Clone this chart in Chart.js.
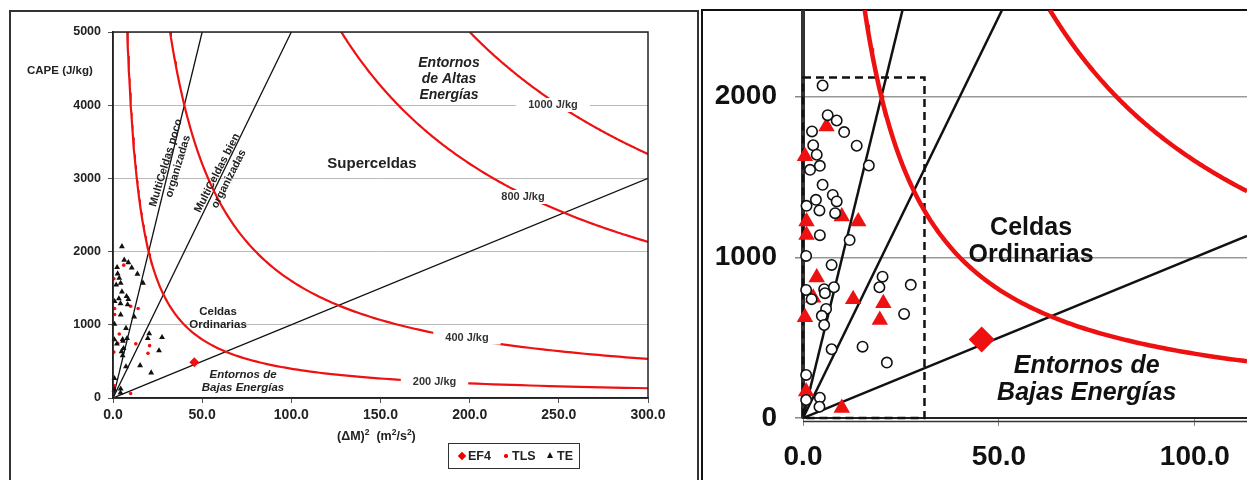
<!DOCTYPE html>
<html>
<head>
<meta charset="utf-8">
<title>CAPE vs (ΔM)²</title>
<script src="https://cdn.jsdelivr.net/npm/chart.js@4.4.1/dist/chart.umd.min.js"></script>
<style>
  html, body { margin: 0; padding: 0; background: #fff; }
  body { width: 1247px; height: 480px; overflow: hidden; position: relative; font-family: "Liberation Sans", Arial, sans-serif; color: #222; }
  .frame { position: absolute; box-sizing: border-box; border: 2px solid #333; border-bottom: none; }
  #frameL { left: 9px; top: 10px; width: 690px; height: 480px; }
  #frameR { left: 701px; top: 9px; width: 600px; height: 480px; border-color: #111; }
  .wrap { position: absolute; }
  #wrapL { left: 12px; top: 13px; width: 683px; height: 467px; }
  #wrapR { left: 702px; top: 10px; width: 545px; height: 470px; }
  #capeTitle { position: absolute; left: 27px; top: 64px; font-weight: bold; font-size: 11.5px; white-space: nowrap; }
  #xTitle { position: absolute; left: 337px; top: 429px; font-weight: bold; font-size: 12.5px; white-space: nowrap; }
  #xTitle sup { font-size: 8.5px; vertical-align: 5px; line-height: 0; }
  #legend { position: absolute; left: 448px; top: 443px; width: 132px; height: 26px; box-sizing: border-box;
            border: 1px solid #333; font-weight: bold; font-size: 12.5px; background: #fff; }
  #legend span { position: absolute; }
  #legend .txt { top: 5px; }
  .dia { left: 10px; top: 9px; width: 6px; height: 6px; background: #e00; transform: rotate(45deg); }
  .dot { left: 55px; top: 10px; width: 3.5px; height: 3.5px; border-radius: 50%; background: #e00; }
  .tri { left: 98px; top: 8px; width: 0; height: 0; border-left: 3.5px solid transparent;
         border-right: 3.5px solid transparent; border-bottom: 6px solid #111; }
</style>
</head>
<body>
<div class="frame" id="frameL"></div>
<div class="frame" id="frameR"></div>
<div class="wrap" id="wrapL"><canvas id="chartL"></canvas></div>
<div class="wrap" id="wrapR"><canvas id="chartR"></canvas></div>
<div id="capeTitle">CAPE (J/kg)</div>
<div id="xTitle">(ΔM)<sup>2</sup>&nbsp;&nbsp;(m<sup>2</sup>/s<sup>2</sup>)</div>
<div id="legend">
  <span class="dia"></span><span class="txt" style="left:19px">EF4</span>
  <span class="dot"></span><span class="txt" style="left:63px">TLS</span>
  <span class="tri"></span><span class="txt" style="left:108px">TE</span>
</div>
<script>
// axis ticks
const leftXTicks = [0, 50, 100, 150, 200, 250, 300];
const leftYTicks = [0, 1000, 2000, 3000, 4000, 5000];
const rightXTicks = [0, 50, 100];
const rightYTicks = [0, 1000, 2000];

// iso-energy lines sqrt(CAPE*(ΔM)²) = E, and CAPE/(ΔM)² dividing lines
const energyLevels = [200, 400, 800, 1000];
const ratioLines = [100, 50, 10];

// EF4 case
const ef4Shear = [45.6];
const ef4Cape = [488];

// TLS cases
const tlsShear = [6.0, 0.5, 0.9, 9.9, 14.1, 0.9, 3.5, 2.6, 12.8, 20.5, 19.6, 0.5, 0.8, 9.9];
const tlsCape = [1815, 1630, 1223, 1254, 1223, 1140, 875, 748, 740, 715, 610, 627, 165, 62];

// TE cases
const teShear = [5.0, 6.3, 8.6, 10.5, 2.3, 13.7, 2.6, 3.5, 4.3, 16.8, 1.8, 5.0, 7.6, 8.6, 3.3, 4.2, 0.9, 8.2, 4.3, 11.9,
                 0.8, 7.3, 20.3, 19.5, 27.5, 0.8, 5.4, 7.9, 5.6, 2.2, 5.9, 4.8, 5.4, 25.8, 7.3, 15.2, 21.4, 0.8, 0.8, 4.3, 4.2];
const teCape = [2070, 1885, 1852, 1780, 1784, 1695, 1698, 1639, 1570, 1572, 1545, 1452, 1389, 1348, 1358, 1292, 1321, 1275, 1138, 1108,
                1009, 953, 880, 814, 829, 797, 802, 814, 777, 740, 679, 636, 579, 648, 428, 444, 345, 268, 112, 126, 70];

// dashed box on the zoomed panel
const detailShear = 31;
const detailCape = 2120;

const RED = '#ee1111';
const FONT = '"Liberation Sans", Arial, sans-serif';

const toPts = (xs, ys) => xs.map((x, i) => ({ x: x, y: ys[i] }));

function isoCurve(e, xMax, yMax) {
  const pts = [];
  const x0 = e * e / yMax;
  if (x0 >= xMax) return pts;
  for (let i = 0; i <= 160; i++) {
    const x = x0 * Math.pow(xMax / x0, i / 160);
    pts.push({ x: x, y: e * e / x });
  }
  return pts;
}

function ray(k, xMax, yMax) {
  const xEnd = Math.min(xMax, yMax / k);
  return [{ x: 0, y: 0 }, { x: xEnd, y: k * xEnd }];
}

function buildDatasets(xMax, yMax, st) {
  const sets = [
    { label: 'EF4', data: toPts(ef4Shear, ef4Cape), pointStyle: 'rectRot', pointRadius: st.ef4R,
      backgroundColor: RED, borderColor: RED, borderWidth: 0, order: 0, clip: false },
    { label: 'TE', data: toPts(teShear, teCape), pointStyle: st.teStyle, pointRadius: st.teR,
      backgroundColor: st.teFill, borderColor: '#111', borderWidth: st.teBorder, order: 1, clip: false },
    { label: 'TLS', data: toPts(tlsShear, tlsCape), pointStyle: st.tlsStyle, pointRadius: st.tlsR,
      backgroundColor: RED, borderColor: RED, borderWidth: 0, order: 2, clip: false }
  ];
  energyLevels.forEach(e => sets.push({
    label: e + ' J/kg', data: isoCurve(e, xMax, yMax), showLine: true, borderColor: RED,
    borderWidth: st.curveW, pointRadius: 0, order: 3
  }));
  ratioLines.forEach(k => sets.push({
    label: 'CAPE = ' + k + '·ΔM²', data: ray(k, xMax, yMax), showLine: true, borderColor: '#111',
    borderWidth: st.rayW, pointRadius: 0, order: 4
  }));
  return sets;
}

function fixTicks(list) {
  return s => { s.ticks = list.map(v => ({ value: v })); };
}

function drawLines(ctx, item, x, y) {
  const px = x.getPixelForValue(item.x);
  const py = y.getPixelForValue(item.y);
  ctx.font = item.font + ' ' + FONT;
  item.lines.forEach((t, i) => ctx.fillText(t, px, py + i * item.lh));
}

// ---------- left panel ----------
const leftIsoLabels = [
  { e: 1000, x: 246.7, y: 4003 },
  { e: 800, x: 229.9, y: 2746 },
  { e: 400, x: 198.5, y: 826 },
  { e: 200, x: 180.3, y: 219 }
];
const leftTexts = [
  { lines: ['Superceldas'], x: 145.2, y: 3142, font: 'bold 15px', lh: 0 },
  { lines: ['Entornos', 'de Altas', 'Energías'], x: 188.4, y: 4522, font: 'italic bold 14px', lh: 16 },
  { lines: ['Celdas', 'Ordinarias'], x: 58.9, y: 1134, font: 'bold 11.5px', lh: 13 },
  { lines: ['Entornos de', 'Bajas Energías'], x: 72.9, y: 273, font: 'italic bold 11.5px', lh: 13 }
];
const leftRotated = [
  { lines: ['MultiCeldas poco', 'organizadas'], x: 33.1, y: 3190, deg: -73.3, lh: 12.5 },
  { lines: ['MultiCeldas bien', 'organizadas'], x: 61.7, y: 3033, deg: -62.9, lh: 13 }
];

const leftNotes = {
  id: 'leftNotes',
  afterDatasetsDraw(chart) {
    const { ctx, chartArea: a, scales: { x, y } } = chart;
    ctx.save();
    ctx.strokeStyle = '#222';
    ctx.lineWidth = 1.5;
    ctx.strokeRect(a.left, a.top, a.right - a.left, a.bottom - a.top);

    ctx.font = 'bold 11px ' + FONT;
    ctx.textAlign = 'center';
    ctx.textBaseline = 'middle';
    leftIsoLabels.forEach(l => {
      const txt = l.e + ' J/kg';
      const px = x.getPixelForValue(l.x), py = y.getPixelForValue(l.y);
      const w = ctx.measureText(txt).width + 24;
      ctx.fillStyle = '#fff';
      ctx.fillRect(px - w / 2, py - 7, w, 14);
      ctx.fillStyle = '#333';
      ctx.fillText(txt, px, py);
    });

    ctx.fillStyle = '#222';
    ctx.textBaseline = 'alphabetic';
    leftTexts.forEach(t => drawLines(ctx, t, x, y));

    ctx.font = 'bold 11px ' + FONT;
    ctx.textBaseline = 'middle';
    leftRotated.forEach(r => {
      ctx.save();
      ctx.translate(x.getPixelForValue(r.x), y.getPixelForValue(r.y));
      ctx.rotate(r.deg * Math.PI / 180);
      const n = r.lines.length;
      r.lines.forEach((t, i) => ctx.fillText(t, 0, (i - (n - 1) / 2) * r.lh));
      ctx.restore();
    });
    ctx.restore();
  }
};

new Chart(document.getElementById('chartL'), {
  type: 'scatter',
  data: { datasets: buildDatasets(300, 5000, {
    ef4R: 5, teStyle: 'triangle', teR: 3.4, teFill: '#111', teBorder: 0,
    tlsStyle: 'circle', tlsR: 1.8, curveW: 2.2, rayW: 1.3
  }) },
  options: {
    responsive: true,
    maintainAspectRatio: false,
    animation: false,
    layout: { autoPadding: false, padding: { top: 19, right: 47, left: 0, bottom: 0 } },
    plugins: { legend: { display: false }, tooltip: { enabled: false } },
    scales: {
      x: {
        type: 'linear', min: 0, max: 300,
        afterBuildTicks: fixTicks(leftXTicks),
        afterFit: s => { s.height = 82; s.paddingLeft = 0; s.paddingRight = 0; },
        grid: { drawOnChartArea: false, tickLength: 5, tickColor: '#555' },
        border: { color: '#222', width: 1.5 },
        ticks: { autoSkip: false, maxRotation: 0, padding: 4, color: '#222',
                 font: { family: FONT, size: 14, weight: 'bold' }, callback: v => Number(v).toFixed(1) }
      },
      y: {
        type: 'linear', min: 0, max: 5000,
        afterBuildTicks: fixTicks(leftYTicks),
        afterFit: s => { s.width = 101; s.paddingTop = 0; s.paddingBottom = 0; },
        grid: { color: '#bbb', lineWidth: 1, tickLength: 5, tickColor: '#555' },
        border: { color: '#222', width: 1.5 },
        ticks: { padding: 7, color: '#222', font: { family: FONT, size: 12.5, weight: 'bold' },
                 callback: v => String(v) }
      }
    }
  },
  plugins: [leftNotes]
});

// ---------- right (zoomed) panel ----------
const rightTexts = [
  { lines: ['Celdas', 'Ordinarias'], x: 58.2, y: 1140, font: 'bold 25px', lh: 27 },
  { lines: ['Entornos de', 'Bajas Energías'], x: 72.4, y: 280, font: 'italic bold 25px', lh: 27 }
];

const rightNotes = {
  id: 'rightNotes',
  beforeDatasetsDraw(chart) {
    const { ctx, scales: { x, y } } = chart;
    const x0 = x.getPixelForValue(0), x1 = x.getPixelForValue(detailShear);
    const y0 = y.getPixelForValue(0), y1 = y.getPixelForValue(detailCape);
    ctx.save();
    ctx.strokeStyle = '#111';
    ctx.lineWidth = 2.5;
    ctx.setLineDash([8, 5]);
    ctx.strokeRect(x0, y1, x1 - x0, y0 - y1);
    ctx.restore();
  },
  afterDatasetsDraw(chart) {
    const { ctx, chartArea: a, scales: { x, y } } = chart;
    ctx.save();
    ctx.strokeStyle = '#333';
    ctx.lineWidth = 1.5;
    ctx.beginPath();
    ctx.moveTo(a.left, a.bottom + 3.5);
    ctx.lineTo(a.right, a.bottom + 3.5);
    ctx.stroke();
    ctx.fillStyle = '#111';
    ctx.textAlign = 'center';
    ctx.textBaseline = 'alphabetic';
    rightTexts.forEach(t => drawLines(ctx, t, x, y));
    ctx.restore();
  }
};

new Chart(document.getElementById('chartR'), {
  type: 'scatter',
  data: { datasets: buildDatasets(113.3, 2540, {
    ef4R: 13, teStyle: 'circle', teR: 5.2, teFill: '#fff', teBorder: 1.6,
    tlsStyle: 'triangle', tlsR: 9.5, curveW: 4.5, rayW: 2.5
  }) },
  options: {
    responsive: true,
    maintainAspectRatio: false,
    animation: false,
    layout: { autoPadding: false, padding: 0 },
    plugins: { legend: { display: false }, tooltip: { enabled: false } },
    scales: {
      x: {
        type: 'linear', min: 0, max: 113.3,
        afterBuildTicks: fixTicks(rightXTicks),
        afterFit: s => { s.height = 62; s.paddingLeft = 0; s.paddingRight = 0; },
        grid: { drawOnChartArea: false, tickLength: 8, tickColor: '#888' },
        border: { color: '#222', width: 2 },
        ticks: { autoSkip: false, maxRotation: 0, padding: 14, color: '#111',
                 font: { family: FONT, size: 28, weight: 'bold' }, callback: v => Number(v).toFixed(1) }
      },
      y: {
        type: 'linear', min: 0, max: 2540,
        afterBuildTicks: fixTicks(rightYTicks),
        afterFit: s => { s.width = 101; s.paddingTop = 0; s.paddingBottom = 0; },
        grid: { color: c => (c.tick && c.tick.value === 0 ? 'rgba(0,0,0,0)' : '#999'), lineWidth: 1.5,
                tickLength: 8, tickColor: '#888' },
        border: { color: '#333', width: 4 },
        ticks: { padding: 18, color: '#111', font: { family: FONT, size: 28, weight: 'bold' },
                 callback: v => String(v) }
      }
    }
  },
  plugins: [rightNotes]
});
</script>
</body>
</html>
